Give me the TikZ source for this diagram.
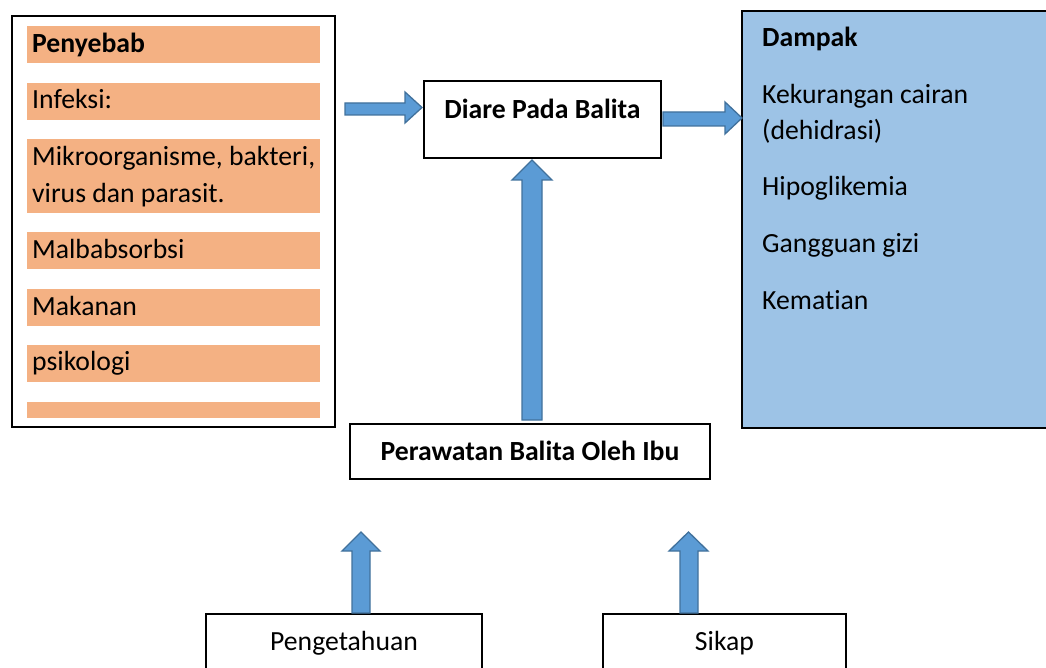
\documentclass[tikz,border=0pt]{standalone}
\usepackage{fontspec}
\setmainfont{Carlito}[Ligatures=NoCommon]
\definecolor{barorange}{HTML}{F4B183}
\definecolor{paleblue}{HTML}{9DC3E6}
\definecolor{arrowfill}{HTML}{5B9BD5}
\definecolor{arrowline}{HTML}{41719C}
\tikzset{
  box/.style={draw=black, line width=1.6pt},
  bar/.style={fill=barorange, draw=none},
  txt/.style={anchor=base west, inner sep=0pt, font=\fontsize{27.7}{36}\selectfont},
  ctxt/.style={anchor=base, inner sep=0pt, font=\fontsize{27.7}{36}\selectfont},
  blockarrow/.style={fill=arrowfill, draw=arrowline, line width=1.3pt, line join=miter}
}
\begin{document}
\begin{tikzpicture}[x=1pt,y=-1pt]
\useasboundingbox (0,0) rectangle (1046,668);
\clip (0,0) rectangle (1046,668);
% left box
\draw[box] (12,16) rectangle (335,427);
\fill[bar] (27,26) rectangle (320,63);
\fill[bar] (27,83) rectangle (320,120);
\fill[bar] (27,139) rectangle (320,213);
\fill[bar] (27,232) rectangle (320,269);
\fill[bar] (27,289) rectangle (320,326);
\fill[bar] (27,345) rectangle (320,382);
\fill[bar] (27,402) rectangle (320,418);
\node[txt] (t1) at (32,52.7) {\bfseries Penyebab};
\node[txt] (t2) at (32,109) {Infeksi:};
\node[txt] (t3) at (32,165.7) {Mikroorganisme, bakteri,};
\node[txt] (t3b) at (32,202.3) {virus dan parasit.};
\node[txt] (t4) at (32,258.3) {Malbabsorbsi};
\node[txt] (t5) at (32,315) {Makanan};
\node[txt] (t6) at (32,370.7) {psikologi};
% right box
\draw[box, fill=paleblue] (742,11) rectangle (1060,428);
\node[txt] (d0) at (762,46.7) {\bfseries Dampak};
\node[txt] (d1) at (762,104) {Kekurangan cairan};
\node[txt] (d1b) at (762,140) {(dehidrasi)};
\node[txt] (d2) at (762,196) {Hipoglikemia};
\node[txt] (d3) at (762,252.3) {Gangguan gizi};
\node[txt] (d4) at (762,309) {Kematian};
% center boxes
\draw[box] (424,81) rectangle (661,158);
\node[ctxt] (diare) at (542.5,118.3) {\bfseries Diare Pada Balita};
\draw[box] (350,424) rectangle (710,479);
\node[ctxt] (rawat) at (530,460) {\bfseries Perawatan Balita Oleh Ibu};
\draw[box] (206,614) rectangle (482,700);
\node[ctxt] (tahu) at (344,650) {Pengetahuan};
\draw[box] (603,614) rectangle (846,700);
\node[ctxt] (sikap) at (724.5,650) {Sikap};
% block arrows
\draw[blockarrow] (345,103) -- (405,103) -- (405,92) -- (422,107.5) -- (405,123) -- (405,115) -- (345,115) -- cycle;
\draw[blockarrow] (663,112) -- (725,112) -- (725,102) -- (742,118) -- (725,134) -- (725,126) -- (663,126) -- cycle;
\draw[blockarrow] (522,420) -- (522,180) -- (512,180) -- (532,160) -- (552,180) -- (542,180) -- (542,420) -- cycle;
\draw[blockarrow] (352,613) -- (352,551) -- (342,551) -- (361,532) -- (380,551) -- (370,551) -- (370,613) -- cycle;
\draw[blockarrow] (680,613) -- (680,551) -- (669,551) -- (688.5,532) -- (708,551) -- (698,551) -- (698,613) -- cycle;
\end{tikzpicture}
\end{document}
